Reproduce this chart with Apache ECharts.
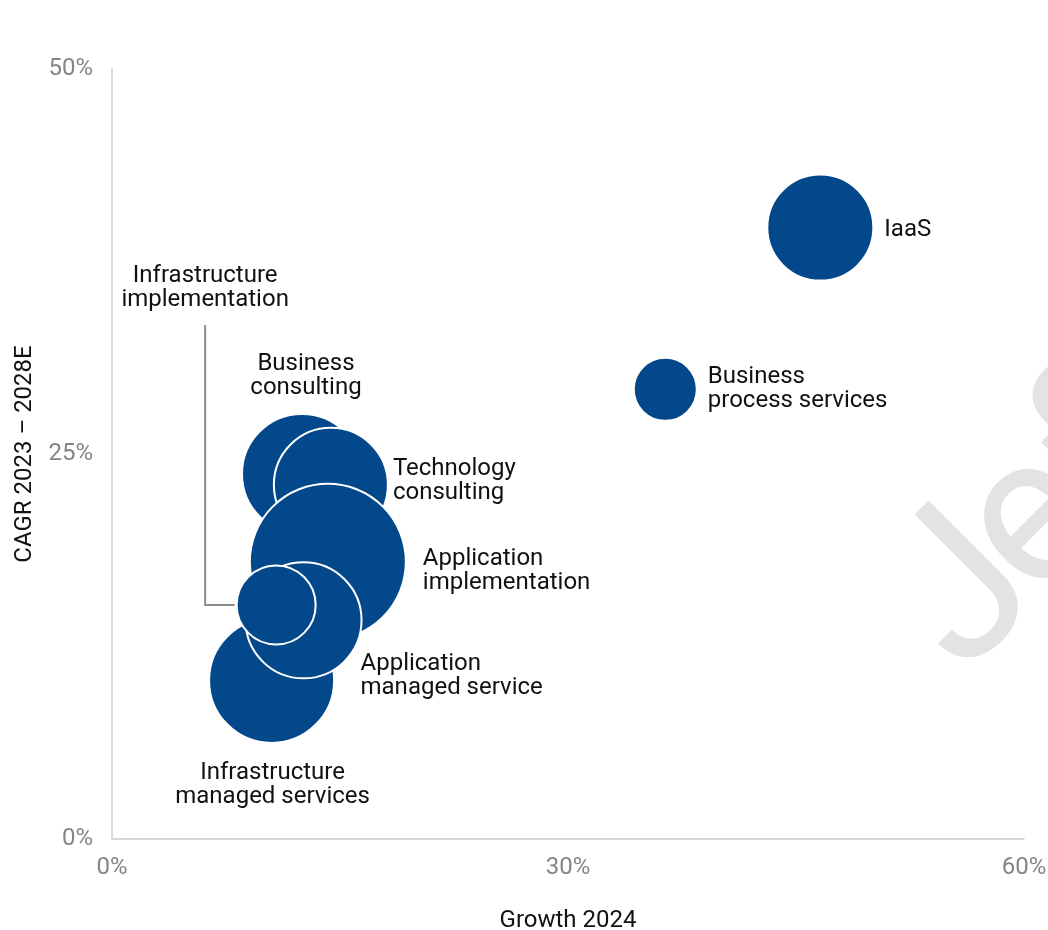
<!DOCTYPE html>
<html>
<head>
<meta charset="utf-8">
<script src="https://cdn.jsdelivr.net/npm/echarts@6/dist/echarts.min.js"></script>
<style>
  html, body { margin: 0; padding: 0; background: #ffffff; }
  #chart { width: 1048px; height: 930px; }
</style>
</head>
<body>
<div id="chart"></div>
<script>
// Segments (draw order: back to front)
const segments = [
  'IaaS',
  'Business\nprocess services',
  'Infrastructure\nmanaged services',
  'Business\nconsulting',
  'Technology\nconsulting',
  'Application\nimplementation',
  'Application\nmanaged service',
  'Infrastructure\nimplementation'
];
// Growth 2024 (%)
const growth2024 = [46.6, 36.4, 10.5, 12.5, 14.4, 14.2, 12.6, 10.8];
// CAGR 2023 - 2028E (%)
const cagr = [39.7, 29.2, 10.3, 23.7, 23.0, 18.0, 14.2, 15.2];
// Relative market size (bubble diameter)
const bubbleSize = [106, 63, 125, 120, 114, 156, 116, 79];

const xTicks = { min: 0, max: 60, interval: 30 };
const yTicks = { min: 0, max: 50, interval: 25 };

// label placement per segment
const labelPlacement = [
  { position: 'right', distance: 10, offset: [0, 2] },
  { position: 'right', distance: 10, offset: [0, 0] },
  { position: 'bottom', distance: 17, offset: [1, 0] },
  { position: 'top', distance: 13, offset: [4, 0] },
  { position: 'right', distance: 4, offset: [0, -4] },
  { position: 'right', distance: 16, offset: [0, 9] },
  { position: 'right', distance: -2, offset: [0, 56] },
  { position: 'inside', distance: 0, offset: [-71, -317] }
];

const FONT = 'Roboto, "Noto Sans", sans-serif';
const BLUE = '#03488b';

const data = segments.map((name, i) => ({
  name: name,
  value: [growth2024[i], cagr[i], bubbleSize[i]],
  label: {
    show: true,
    formatter: name,
    position: labelPlacement[i].position,
    distance: labelPlacement[i].distance,
    offset: labelPlacement[i].offset,
    align: (labelPlacement[i].position === 'right') ? 'left' : 'center',
    color: '#111111',
    fontSize: 24,
    lineHeight: 24,
    fontFamily: FONT
  }
}));

const chart = echarts.init(document.getElementById('chart'), null, { renderer: 'canvas' });

const option = {
  backgroundColor: '#ffffff',
  animation: false,
  grid: { left: 112, right: 24, top: 69, bottom: 91, containLabel: false, outerBoundsMode: 'none' },
  xAxis: {
    type: 'value',
    min: xTicks.min, max: xTicks.max, interval: xTicks.interval,
    name: 'Growth 2024',
    nameLocation: 'middle',
    nameGap: 70,
    nameTextStyle: { color: '#111111', fontSize: 24, fontFamily: FONT },
    axisLine: { show: true, lineStyle: { color: '#cccccc', width: 1.5 } },
    axisTick: { show: false },
    splitLine: { show: false },
    axisLabel: { formatter: '{value}%', color: '#858585', fontSize: 24, fontFamily: FONT, margin: 17 }
  },
  yAxis: {
    type: 'value',
    min: yTicks.min, max: yTicks.max, interval: yTicks.interval,
    name: 'CAGR 2023 \u2013 2028E',
    nameLocation: 'middle',
    nameGap: 75,
    nameTextStyle: { color: '#111111', fontSize: 24, fontFamily: FONT },
    axisLine: { show: true, lineStyle: { color: '#cccccc', width: 1.5 } },
    axisTick: { show: false },
    splitLine: { show: false },
    axisLabel: { formatter: '{value}%', color: '#858585', fontSize: 24, fontFamily: FONT, margin: 19 }
  },
  series: [{
    type: 'scatter',
    data: data,
    symbol: 'circle',
    symbolSize: function (val) { return val[2]; },
    itemStyle: { color: BLUE, borderColor: '#ffffff', borderWidth: 2, opacity: 1 },
    emphasis: { disabled: true },
    z: 3
  }]
};
chart.setOption(option);

// leader line for "Infrastructure implementation" label, derived from the data point
const iiIdx = segments.indexOf('Infrastructure\nimplementation');
const c = chart.convertToPixel({ gridIndex: 0 }, [growth2024[iiIdx], cagr[iiIdx]]);
const r = bubbleSize[iiIdx] / 2;
const off = labelPlacement[iiIdx].offset;
const lx = c[0] + off[0];
const labelBottom = c[1] + off[1] + 24 + 13;

// watermark: baseline origin and rotation
const wmSize = 210;
const wmFont = wmSize + 'px Roboto, sans-serif';
const wmBase = [959, 672];
const wmTopShift = 0.72 * wmSize / Math.SQRT2;
const measureCtx = document.createElement('canvas').getContext('2d');
measureCtx.font = wmFont;
const jAdvance = measureCtx.measureText('J').width - 13;
const ePos = [wmBase[0] + jAdvance / Math.SQRT2, wmBase[1] - jAdvance / Math.SQRT2];

chart.setOption({
  graphic: [
    {
      type: 'polyline',
      z: 1,
      shape: { points: [[lx, labelBottom], [lx, c[1]], [c[0] - r - 2, c[1]]] },
      style: { stroke: '#8c8c8c', lineWidth: 2, fill: null }
    },
    {
      type: 'text',
      z: 0,
      x: wmBase[0] - wmTopShift, y: wmBase[1] - wmTopShift,
      rotation: Math.PI / 4,
      style: { text: 'J', fill: '#e3e3e3', font: wmFont, textAlign: 'left' },
      silent: true
    },
    {
      type: 'text',
      z: 0,
      x: ePos[0] - wmTopShift, y: ePos[1] - wmTopShift,
      rotation: Math.PI / 4,
      style: { text: 'efferies', fill: '#e3e3e3', font: wmFont, textAlign: 'left' },
      silent: true
    }
  ]
});
</script>
</body>
</html>
